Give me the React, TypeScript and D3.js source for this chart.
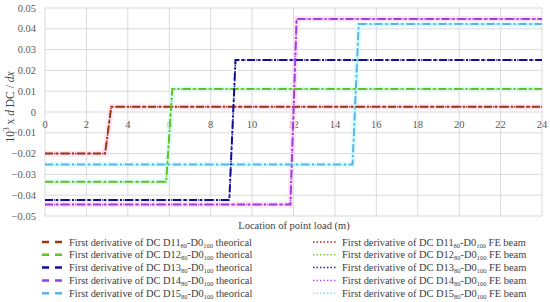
import React, { useEffect, useRef } from "react";
import * as d3 from "d3";

// x positions (m) and values of the five DC derivative steps
const series = ["D11", "D12", "D13", "D14", "D15"];
const jumpStart = [2.9, 5.85, 8.9, 11.85, 14.85];
const jumpEnd = [3.2, 6.15, 9.2, 12.15, 15.15];
const beforeValues = [-0.02, -0.0335, -0.0423, -0.0445, -0.0253];
const afterValues = [0.0025, 0.011, 0.025, 0.0447, 0.0423];
const feBefore = [-0.02, -0.0335, -0.0423, -0.0445, -0.0253];
const feAfter = [0.0025, 0.011, 0.025, 0.0447, 0.0423];

const xTicks = [0, 2, 4, 6, 8, 10, 12, 14, 16, 18, 20, 22, 24];
const yTicks = [0.05, 0.04, 0.03, 0.02, 0.01, 0, -0.01, -0.02, -0.03, -0.04, -0.05];

const theoColors = ["#9a3a12", "#66c21a", "#0d0d9e", "#9b3fe6", "#5fb2e6"];
const feColors = ["#b02020", "#7ad030", "#2020b0", "#b050f0", "#80e0f0"];
const haloColors = ["#ffdcf0", "#d8fdff", "#ffffff", "#ffdcf0", "#d8fdff"];

const W = 550;
const H = 302;
const FONT = "Liberation Serif, Times New Roman, serif";

export default function App() {
  const ref = useRef<SVGSVGElement>(null);

  useEffect(() => {
    const svg = d3.select(ref.current);
    svg.selectAll("*").remove();

    const x = d3.scaleLinear().domain([0, 24]).range([45, 542]);
    const y = d3.scaleLinear().domain([-0.05, 0.05]).range([216, 8]);

    const g = svg.append("g");

    // grid
    g.selectAll("line.h")
      .data(yTicks)
      .enter()
      .append("line")
      .attr("x1", x(0))
      .attr("x2", x(24))
      .attr("y1", d => y(d))
      .attr("y2", d => y(d))
      .attr("stroke", "#d9d9d9")
      .attr("stroke-width", 1);
    g.selectAll("line.v")
      .data(xTicks)
      .enter()
      .append("line")
      .attr("x1", d => x(d))
      .attr("x2", d => x(d))
      .attr("y1", y(0.05))
      .attr("y2", y(-0.05))
      .attr("stroke", "#d9d9d9")
      .attr("stroke-width", 1);

    // y tick labels
    g.selectAll("text.yt")
      .data(yTicks)
      .enter()
      .append("text")
      .attr("x", 36)
      .attr("y", d => y(d) + 3.5)
      .attr("text-anchor", "end")
      .attr("font-family", FONT)
      .attr("font-size", 10.5)
      .attr("fill", "#595959")
      .text(d => (d === 0 ? "0" : d3.format(".2f")(d).replace("-", "\u2212")));

    // x tick labels sit just under the zero line
    g.selectAll("text.xt")
      .data(xTicks)
      .enter()
      .append("text")
      .attr("x", d => x(d))
      .attr("y", y(0) + 16)
      .attr("text-anchor", "middle")
      .attr("font-family", FONT)
      .attr("font-size", 10.5)
      .attr("fill", "#595959")
      .text(d => d);

    const line = d3
      .line<[number, number]>()
      .x(d => x(d[0]))
      .y(d => y(d[1]));

    const pts = (i: number, lo: number[], hi: number[]): [number, number][] => [
      [0, lo[i]],
      [jumpStart[i], lo[i]],
      [jumpEnd[i], hi[i]],
      [24, hi[i]]
    ];

    // halo behind the lines
    series.forEach((s, i) => {
      g.append("path")
        .attr("d", line(pts(i, beforeValues, afterValues)))
        .attr("fill", "none")
        .attr("stroke", haloColors[i])
        .attr("stroke-width", 6)
        .attr("opacity", 0.7);
    });

    // FE beam (dotted)
    series.forEach((s, i) => {
      g.append("path")
        .attr("d", line(pts(i, feBefore, feAfter)))
        .attr("fill", "none")
        .attr("stroke", feColors[i])
        .attr("stroke-width", 1.5)
        .attr("stroke-dasharray", "1.5 1.5");
    });

    // theoretical (dash-dot)
    series.forEach((s, i) => {
      g.append("path")
        .attr("d", line(pts(i, beforeValues, afterValues)))
        .attr("fill", "none")
        .attr("stroke", theoColors[i])
        .attr("stroke-width", 2)
        .attr("stroke-dasharray", "8 3 2 3");
    });

    // axis titles
    svg.append("text")
      .attr("x", 294)
      .attr("y", 229)
      .attr("text-anchor", "middle")
      .attr("font-family", FONT)
      .attr("font-size", 10.5)
      .attr("fill", "#404040")
      .text("Location of point load (m)");

    const yt = svg.append("text")
      .attr("transform", "translate(14,107) rotate(-90)")
      .attr("text-anchor", "middle")
      .attr("font-family", FONT)
      .attr("font-size", 11.5)
      .attr("fill", "#404040");
    yt.append("tspan").text("10");
    yt.append("tspan").attr("font-size", 7.5).attr("dy", -5).text("3");
    yt.append("tspan").attr("dy", 5).text(" x ");
    yt.append("tspan").attr("font-style", "italic").text("d");
    yt.append("tspan").text(" DC / ");
    yt.append("tspan").attr("font-style", "italic").text("dx");

    // legend
    const rowY = (i: number) => 242 + i * 12.8;
    const legendLabel = (sel: any, s: string, tail: string) => {
      sel.append("tspan").text("First derivative of DC " + s);
      sel.append("tspan").attr("font-size", 6.5).attr("dy", 2).text("80");
      sel.append("tspan").attr("dy", -2).text("-D0");
      sel.append("tspan").attr("font-size", 6.5).attr("dy", 2).text("100");
      sel.append("tspan").attr("dy", -2).text(" " + tail);
    };

    series.forEach((s, i) => {
      const ly = rowY(i);
      svg.append("line")
        .attr("x1", 42).attr("x2", 62)
        .attr("y1", ly).attr("y2", ly)
        .attr("stroke", theoColors[i])
        .attr("stroke-width", 2.5)
        .attr("stroke-dasharray", "7 6");
      const t1 = svg.append("text")
        .attr("x", 69).attr("y", ly + 3.5)
        .attr("font-family", FONT).attr("font-size", 10.4)
        .attr("fill", "#404040");
      legendLabel(t1, s, "theorical");

      svg.append("line")
        .attr("x1", 313).attr("x2", 337)
        .attr("y1", ly).attr("y2", ly)
        .attr("stroke", feColors[i])
        .attr("stroke-width", 1.5)
        .attr("stroke-dasharray", "1.5 2");
      const t2 = svg.append("text")
        .attr("x", 342).attr("y", ly + 3.5)
        .attr("font-family", FONT).attr("font-size", 10.4)
        .attr("fill", "#404040");
      legendLabel(t2, s, "FE beam");
    });
  }, []);

  return (
    <svg
      ref={ref}
      width={W}
      height={H}
      style={{ position: "absolute", left: 0, top: 0, background: "#fff" }}
    />
  );
}
